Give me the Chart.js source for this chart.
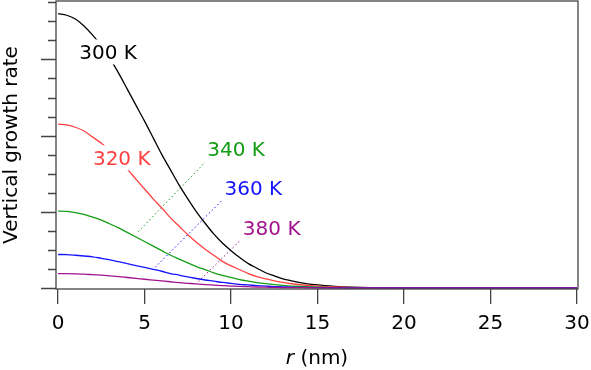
<!DOCTYPE html>
<html>
<head>
<meta charset="utf-8">
<script src="https://cdn.jsdelivr.net/npm/chart.js@4/dist/chart.umd.min.js"></script>
<style>
  html, body { margin: 0; padding: 0; background: #fff; }
  #wrap { width: 591px; height: 370px; }
</style>
</head>
<body>
<div id="wrap"><canvas id="chart--growth"></canvas></div>
<script>
// radius (nm) and growth rate (denser near the peak)
const radius = [0, 0.5, 1, 1.5, 2, 2.5, 3, 3.5, 4, 4.5, 5, 5.5, 6, 6.5, 7, 7.5, 8, 8.5, 9, 9.5,
    10, 10.5, 11, 11.5, 12, 12.5, 13, 13.5, 14,
    15, 16, 17, 18, 19, 20, 21, 22, 23, 24, 25, 26, 27, 28, 29, 30];
const rate300 = [3.60, 3.58, 3.53, 3.44, 3.32, 3.18, 3.01, 2.82, 2.61, 2.40, 2.19, 1.97, 1.75, 1.55, 1.35, 1.17, 1.00, 0.85, 0.71, 0.59,
    0.49, 0.40, 0.32, 0.26, 0.20, 0.16, 0.12, 0.094, 0.072,
    0.040, 0.022, 0.011, 0.005, 0.003, 0.001, 0, 0, 0, 0, 0, 0, 0, 0, 0, 0];
const rate320 = [2.15, 2.14, 2.11, 2.06, 1.98, 1.90, 1.80, 1.68, 1.56, 1.43, 1.30, 1.17, 1.05, 0.92, 0.81, 0.70, 0.60, 0.51, 0.43, 0.35,
    0.29, 0.24, 0.19, 0.15, 0.12, 0.095, 0.073, 0.056, 0.043,
    0.024, 0.013, 0.006, 0.003, 0.002, 0.001, 0, 0, 0, 0, 0, 0, 0, 0, 0, 0];
const rate340 = [1.01, 1.005, 0.99, 0.966, 0.93, 0.89, 0.84, 0.79, 0.73, 0.67, 0.61, 0.55, 0.49, 0.43, 0.38, 0.33, 0.28, 0.24, 0.20, 0.166,
    0.14, 0.111, 0.090, 0.072, 0.057, 0.044, 0.034, 0.026, 0.020,
    0.011, 0.006, 0.003, 0.002, 0.001, 0, 0, 0, 0, 0, 0, 0, 0, 0, 0, 0];
const rate360 = [0.44, 0.438, 0.43, 0.42, 0.41, 0.39, 0.37, 0.345, 0.32, 0.295, 0.27, 0.245, 0.22, 0.19, 0.17, 0.145, 0.125, 0.105, 0.09, 0.073,
    0.06, 0.048, 0.04, 0.031, 0.025, 0.019, 0.015, 0.011, 0.009,
    0.005, 0.003, 0.001, 0.001, 0, 0, 0, 0, 0, 0, 0, 0, 0, 0, 0, 0];
const rate380 = [0.19, 0.189, 0.186, 0.182, 0.175, 0.168, 0.159, 0.149, 0.138, 0.127, 0.115, 0.104, 0.093, 0.082, 0.071, 0.062, 0.053, 0.045, 0.038, 0.031,
    0.026, 0.021, 0.017, 0.013, 0.011, 0.008, 0.006, 0.005, 0.004,
    0.002, 0.001, 0, 0, 0, 0, 0, 0, 0, 0, 0, 0, 0, 0, 0, 0];

const xTicks = [0, 5, 10, 15, 20, 25, 30];

// in-plot labels (anchor in data units: r, rate at baseline)
const tempLabels = ['300 K', '320 K', '340 K', '360 K', '380 K'];
const labelR = [2.89, 3.68, 10.29, 11.29, 12.35];
const labelV = [3.00, 1.61, 1.73, 1.22, 0.70];

// dotted leader lines
const leader340R = [4.64, 8.5];
const leader340V = [0.74, 1.65];
const leader360R = [5.61, 9.46];
const leader360V = [0.272, 1.146];
const leader380R = [8.11, 10.56];
const leader380V = [0.083, 0.63];

const colors = ['#000000', '#ff4040', '#139d13', '#1414ff', '#a0128e'];
const FONT = '"DejaVu Sans", Verdana, sans-serif';

function pts(xs, ys) {
    return xs.map((x, i) => ({x: x, y: ys[i]}));
}

function curve(label, ys, color, order) {
    return {
        label: label,
        data: pts(radius, ys),
        borderColor: color,
        borderWidth: 1.3,
        pointRadius: 0,
        fill: false,
        cubicInterpolationMode: 'monotone',
        order: order
    };
}

function leader(xs, ys, color) {
    return {
        data: pts(xs, ys),
        borderColor: color,
        borderWidth: 1,
        borderDash: [1.5, 2.5],
        pointRadius: 0,
        fill: false,
        order: 10
    };
}

const labelPlugin = {
    id: 'labels',
    afterDatasetsDraw(chart) {
        const ctx = chart.ctx;
        const xs = chart.scales.x, ys = chart.scales.y;
        ctx.save();
        ctx.font = '20px ' + FONT;
        ctx.textAlign = 'center';
        ctx.textBaseline = 'alphabetic';
        tempLabels.forEach((t, i) => {
            const px = xs.getPixelForValue(labelR[i]);
            const py = ys.getPixelForValue(labelV[i]);
            const w = ctx.measureText(t).width;
            ctx.fillStyle = '#fff';
            ctx.fillRect(px - w / 2 - 5, py - 20, w + 10, 25);
            ctx.fillStyle = colors[i];
            ctx.fillText(t, px, py);
        });
        ctx.restore();
    },
    afterDraw(chart) {
        const ctx = chart.ctx;
        const a = chart.chartArea;
        const ys = chart.scales.y;
        ctx.save();
        // frame
        ctx.strokeStyle = '#444';
        ctx.lineWidth = 1.3;
        ctx.strokeRect(a.left, a.top, a.right - a.left, a.bottom - a.top);
        // y ticks, major every 1, minor every 0.25
        ctx.beginPath();
        ys.ticks.forEach(t => {
            const py = Math.round(ys.getPixelForValue(t.value)) + 0.5;
            const len = Number.isInteger(Math.round(t.value * 1000) / 1000) ? 15 : 8;
            ctx.moveTo(a.left - len, py);
            ctx.lineTo(a.left, py);
        });
        ctx.stroke();
        // y title
        ctx.fillStyle = '#000';
        ctx.font = '20px ' + FONT;
        ctx.textAlign = 'center';
        ctx.textBaseline = 'alphabetic';
        ctx.translate(17, (a.top + a.bottom) / 2);
        ctx.rotate(-Math.PI / 2);
        ctx.fillText('Vertical growth rate', 0, 0);
        ctx.restore();
        // x title with italic r
        ctx.save();
        ctx.fillStyle = '#000';
        ctx.textBaseline = 'alphabetic';
        ctx.textAlign = 'left';
        ctx.font = 'italic 20px ' + FONT;
        const w1 = ctx.measureText('r').width;
        ctx.font = '20px ' + FONT;
        const w2 = ctx.measureText(' (nm)').width;
        const cx = (a.left + a.right) / 2;
        let x0 = cx - (w1 + w2) / 2;
        ctx.font = 'italic 20px ' + FONT;
        ctx.fillText('r', x0, 364);
        ctx.font = '20px ' + FONT;
        ctx.fillText(' (nm)', x0 + w1, 364);
        ctx.restore();
    }
};

const config = {
    type: 'line',
    data: {
        datasets: [
            curve('380 K', rate380, colors[4], 1),
            curve('360 K', rate360, colors[3], 2),
            curve('340 K', rate340, colors[2], 3),
            curve('320 K', rate320, colors[1], 4),
            curve('300 K', rate300, colors[0], 5),
            leader(leader340R, leader340V, colors[2]),
            leader(leader360R, leader360V, colors[3]),
            leader(leader380R, leader380V, colors[4])
        ]
    },
    options: {
        responsive: false,
        animation: false,
        events: [],
        layout: {padding: {top: 1, right: 13, left: 0, bottom: 0}},
        plugins: {legend: {display: false}, tooltip: {enabled: false}},
        scales: {
            x: {
                type: 'linear',
                min: -0.12,
                max: 30.06,
                afterBuildTicks(scale) {
                    scale.ticks = xTicks.map(v => ({value: v}));
                },
                afterFit(scale) {
                    scale.height = 81;
                    scale.paddingLeft = 0;
                    scale.paddingRight = 0;
                },
                grid: {drawOnChartArea: false, tickLength: 15, color: '#444', lineWidth: 1.3},
                border: {display: false},
                ticks: {color: '#000', padding: 8, font: {family: FONT, size: 20}, maxRotation: 0}
            },
            y: {
                type: 'linear',
                min: -0.013,
                max: 3.767,
                afterBuildTicks(scale) {
                    const t = [];
                    for (let i = 0; i <= 15; i++) t.push({value: i * 0.25});
                    scale.ticks = t;
                },
                afterFit(scale) {
                    scale.width = 56;
                    scale.paddingTop = 0;
                    scale.paddingBottom = 0;
                },
                grid: {display: false},
                border: {display: false},
                ticks: {display: false}
            }
        }
    },
    plugins: [labelPlugin]
};

const canvas = document.getElementById('chart--growth');
canvas.width = 591;
canvas.height = 370;
var chartGrowth = new Chart(canvas, config);
</script>
</body>
</html>
